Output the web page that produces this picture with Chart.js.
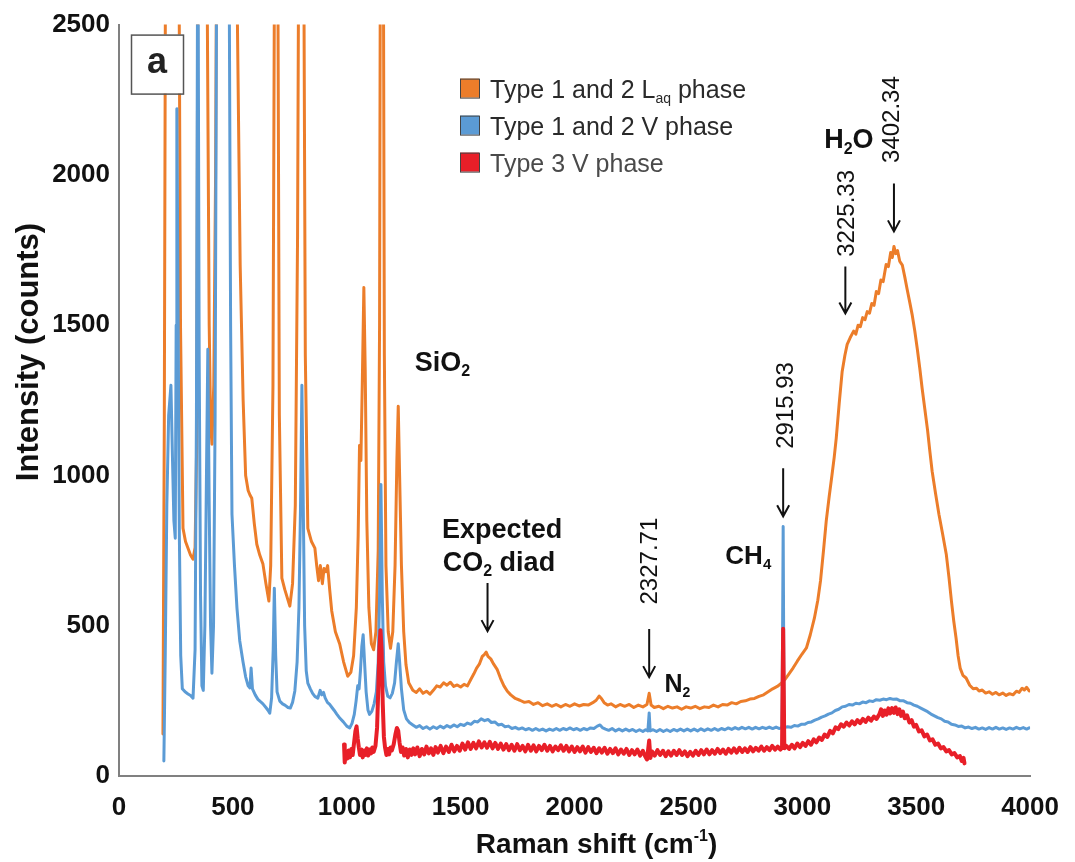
<!DOCTYPE html>
<html lang="en">
<head>
  <meta charset="UTF-8" />
  <title>Raman spectra of fluid inclusions</title>
  <script src="https://cdn.jsdelivr.net/npm/chart.js"></script>
  <style>
    html, body { margin: 0; padding: 0; background: #fff; }
    #wrap { position: relative; width: 1075px; height: 862px; }
  </style>
</head>
<body>
  <div id="wrap"><canvas id="spectra" width="1075" height="862"></canvas></div>

  <script>
    const FONT = '"Liberation Sans", Arial, Helvetica, sans-serif';

    // Axis ticks
    const xTicks = [0, 500, 1000, 1500, 2000, 2500, 3000, 3500, 4000];
    const yTicks = [0, 500, 1000, 1500, 2000, 2500];

    const seriesNames = ['Type 1 and 2 Laq phase', 'Type 1 and 2 V phase', 'Type 3 V phase'];
    const seriesColors = ['#ec7d2a', '#5b9bd5', '#e81f28'];

    // Raman shift (cm-1), intensity (counts)
    const laqSpectrum = [
      [193,140],[199,1200],[205,3000],[262,3000],[270,1500],[281,824],[292,780],[303,758],[314,735],[325,721],
      [334,760],[341,1100],[347,3000],[384,3000],[396,1500],[402,1180],[408,1104],[416,1300],[424,2000],[430,3000],
      [505,3000],[520,2500],[532,1700],[545,1250],[556,1000],[567,950],[575,935],[583,924],[594,840],[605,771],
      [618,735],[632,705],[645,640],[658,582],[666,700],[676,1300],[684,3000],[696,3000],[704,1200],[715,658],
      [728,620],[740,590],[750,565],[762,640],[774,900],[784,1800],[790,3000],[810,3000],[818,1400],[829,824],
      [845,780],[860,758],[868,700],[876,650],[884,700],[893,640],[900,690],[908,680],[916,700],[925,620],
      [934,549],[950,480],[969,439],[986,380],[1004,332],[1018,345],[1030,400],[1042,560],[1050,800],[1056,1100],
      [1062,1050],[1068,1300],[1075,1625],[1081,1350],[1088,850],[1097,560],[1108,440],[1118,420],[1128,480],[1138,750],
      [1144,1500],[1148,3000],[1160,3000],[1165,1400],[1172,700],[1182,480],[1192,425],[1202,480],[1212,700],[1220,1050],
      [1226,1230],[1232,1000],[1240,700],[1250,480],[1260,370],[1272,310],[1290,285],[1305,278],[1320,290],[1335,275],
      [1350,282],[1365,272],[1380,285],[1395,300],[1410,296],[1425,310],[1440,302],[1455,312],[1470,298],[1485,303],
      [1500,296],[1515,305],[1530,300],[1545,322],[1558,340],[1570,359],[1582,372],[1595,398],[1605,405],[1612,412],
      [1620,398],[1632,390],[1645,372],[1660,355],[1675,325],[1690,300],[1705,282],[1720,270],[1740,258],[1760,252],
      [1780,245],[1800,248],[1820,238],[1840,244],[1860,234],[1880,240],[1900,232],[1920,238],[1940,230],[1960,238],
      [1980,232],[2000,240],[2020,233],[2040,238],[2060,236],[2080,244],[2095,252],[2108,266],[2118,258],[2130,244],
      [2145,236],[2160,240],[2180,230],[2200,238],[2220,232],[2240,238],[2260,228],[2280,236],[2300,230],[2318,238],
      [2327.71,275],[2336,236],[2350,228],[2370,232],[2390,224],[2410,232],[2430,226],[2450,230],[2470,222],[2490,230],
      [2510,226],[2530,232],[2550,224],[2570,230],[2590,228],[2610,236],[2630,230],[2650,238],[2670,236],[2690,244],
      [2710,240],[2730,248],[2750,250],[2770,256],[2790,258],[2810,265],[2830,270],[2850,280],[2870,290],[2890,298],
      [2904,306],[2925,322],[2940,338],[2960,360],[2978,382],[2998,405],[3018,426],[3035,470],[3053,525],[3068,585],
      [3080,650],[3093,750],[3105,848],[3118,930],[3130,1000],[3140,1060],[3149,1124],[3162,1240],[3175,1346],[3187,1400],
      [3197,1436],[3210,1458],[3225.33,1480],[3235,1470],[3245,1500],[3255,1495],[3265,1525],[3275,1518],[3285,1545],[3295,1540],
      [3305,1572],[3315,1566],[3325,1612],[3335,1605],[3345,1650],[3355,1645],[3368,1702],[3378,1695],[3388,1742],[3395,1725],
      [3402.34,1762],[3410,1738],[3418,1748],[3428,1712],[3439,1700],[3450,1660],[3460,1620],[3472,1575],[3482,1536],[3494,1480],
      [3505,1420],[3516,1355],[3526,1290],[3538,1220],[3550,1150],[3560,1080],[3570,1014],[3585,940],[3600,870],[3616,805],
      [3632,738],[3644,660],[3655,580],[3665,515],[3675,459],[3684,400],[3693,359],[3705,335],[3719,326],[3735,302],
      [3750,290],[3765,292],[3776,283],[3790,286],[3805,276],[3820,280],[3835,272],[3850,278],[3864,270],[3880,276],
      [3895,268],[3910,274],[3925,270],[3940,282],[3952,278],[3965,292],[3975,286],[3985,295],[3996,283]
    ];

    const vapSpectrum = [
      [197,50],[203,400],[210,900],[218,1200],[228,1300],[235,1050],[241,850],[247,791],[251,1500],[254,2220],
      [259,1600],[265,800],[271,400],[278,290],[290,280],[303,273],[314,268],[325,259],[334,420],[340,1200],
      [346,3000],[352,1400],[358,600],[364,300],[370,285],[377,500],[384,1000],[390,1420],[396,900],[402,500],
      [408,342],[415,500],[422,1200],[430,3000],[482,3000],[490,1500],[496,871],[507,700],[518,558],[530,450],
      [544,382],[556,330],[567,300],[575,293],[580,359],[586,290],[598,270],[610,255],[620,248],[632,240],
      [645,228],[655,218],[662,209],[670,260],[677,420],[682,625],[688,400],[694,280],[706,249],[718,240],
      [730,235],[742,228],[752,226],[762,245],[772,283],[782,380],[790,560],[797,900],[803,1300],[809,900],
      [815,500],[822,350],[829,309],[840,290],[850,275],[860,265],[873,259],[883,285],[890,270],[898,278],
      [905,260],[915,245],[925,238],[935,228],[945,218],[956,206],[970,192],[985,180],[1000,166],[1013,160],
      [1023,175],[1033,205],[1041,250],[1048,300],[1054,290],[1060,350],[1066,430],[1072,470],[1078,380],[1085,280],
      [1093,220],[1100,205],[1110,215],[1120,240],[1130,280],[1138,380],[1144,600],[1150,970],[1156,600],[1162,380],
      [1170,300],[1180,265],[1190,260],[1200,275],[1210,310],[1218,380],[1226,440],[1232,380],[1240,290],[1250,220],
      [1262,190],[1275,178],[1290,170],[1305,162],[1320,168],[1335,158],[1350,164],[1365,156],[1380,164],[1395,158],
      [1410,166],[1425,160],[1440,168],[1455,162],[1470,170],[1485,164],[1500,172],[1515,168],[1530,176],[1545,172],
      [1560,182],[1575,180],[1590,190],[1605,184],[1620,188],[1635,178],[1650,180],[1665,170],[1680,172],[1695,164],
      [1710,166],[1725,158],[1740,162],[1755,156],[1770,160],[1785,154],[1800,158],[1815,152],[1830,158],[1845,152],
      [1860,156],[1875,150],[1890,156],[1905,152],[1920,158],[1935,152],[1950,158],[1965,154],[1980,160],[1995,154],
      [2010,158],[2025,152],[2040,158],[2055,154],[2070,160],[2085,158],[2100,166],[2112,170],[2124,160],[2136,156],
      [2150,152],[2165,158],[2180,150],[2195,156],[2210,150],[2225,156],[2240,150],[2255,155],[2270,148],[2285,154],
      [2300,148],[2312,154],[2322,150],[2327.71,210],[2332,150],[2345,154],[2360,148],[2375,155],[2390,148],[2405,154],
      [2420,148],[2435,155],[2450,150],[2465,156],[2480,150],[2495,156],[2510,150],[2525,156],[2540,150],[2555,157],
      [2570,151],[2585,157],[2600,152],[2615,158],[2630,152],[2645,158],[2660,154],[2675,160],[2690,155],[2705,161],
      [2720,156],[2735,162],[2750,157],[2765,162],[2780,156],[2795,162],[2810,157],[2825,162],[2840,158],[2855,163],
      [2870,158],[2885,163],[2900,158],[2911,162],[2915.93,830],[2920,160],[2935,164],[2950,162],[2965,168],[2980,166],
      [2995,172],[3010,172],[3025,178],[3040,180],[3055,186],[3070,190],[3085,196],[3100,200],[3115,206],[3130,210],
      [3145,218],[3160,222],[3175,230],[3190,232],[3205,238],[3220,236],[3235,242],[3250,240],[3265,246],[3280,244],
      [3295,250],[3310,248],[3325,254],[3340,252],[3355,256],[3370,254],[3385,258],[3400,255],[3415,256],[3430,250],
      [3445,250],[3460,244],[3475,242],[3490,236],[3505,232],[3520,226],[3535,220],[3550,214],[3565,206],[3580,200],
      [3595,194],[3610,190],[3625,182],[3640,180],[3655,172],[3670,170],[3685,165],[3700,166],[3715,160],[3730,163],
      [3745,158],[3760,162],[3775,156],[3790,160],[3805,155],[3820,161],[3835,156],[3850,162],[3865,156],[3880,160],
      [3895,155],[3910,160],[3925,156],[3940,162],[3955,157],[3970,161],[3985,156],[3996,160]
    ];

    const type3Spectrum = [
      [988,105],[991,45],[996,80],[1002,58],[1008,85],[1014,62],[1020,90],[1026,70],[1032,110],[1038,150],
      [1043,165],[1048,125],[1053,95],[1058,70],[1064,88],[1070,62],[1076,85],[1082,70],[1088,92],[1094,68],
      [1100,88],[1106,75],[1112,95],[1118,80],[1126,100],[1133,160],[1138,280],[1143,420],[1148,485],[1153,420],
      [1158,240],[1163,130],[1168,95],[1174,70],[1180,90],[1186,72],[1192,95],[1198,85],[1206,105],[1214,140],
      [1220,160],[1226,150],[1232,110],[1238,80],[1245,95],[1252,68],[1260,90],[1268,62],[1276,88],[1284,70],
      [1292,92],[1300,72],[1310,95],[1320,66],[1330,90],[1340,72],[1350,98],[1360,75],[1370,92],[1380,70],
      [1390,96],[1400,78],[1412,100],[1424,76],[1436,98],[1448,80],[1460,104],[1472,82],[1484,100],[1496,84],
      [1508,108],[1520,88],[1532,112],[1544,90],[1556,110],[1568,92],[1580,115],[1592,95],[1604,112],[1616,94],
      [1628,114],[1640,92],[1652,110],[1664,90],[1676,108],[1688,88],[1700,106],[1712,86],[1724,104],[1736,84],
      [1748,106],[1760,86],[1772,100],[1784,82],[1796,104],[1808,84],[1820,102],[1832,82],[1844,100],[1856,86],
      [1868,104],[1880,84],[1892,100],[1904,82],[1916,98],[1928,86],[1940,102],[1952,84],[1964,100],[1976,82],
      [1988,98],[2000,80],[2012,96],[2024,82],[2036,98],[2048,78],[2060,96],[2072,80],[2084,94],[2096,76],
      [2108,92],[2120,78],[2132,94],[2144,74],[2156,90],[2168,76],[2180,92],[2192,72],[2204,88],[2216,74],
      [2228,90],[2240,70],[2252,86],[2264,72],[2276,88],[2288,68],[2300,84],[2310,66],[2318,55],[2322,80],
      [2327.71,118],[2333,60],[2340,82],[2352,68],[2364,86],[2376,70],[2388,84],[2400,66],[2412,82],[2424,68],
      [2436,84],[2448,70],[2460,86],[2472,70],[2484,82],[2496,66],[2508,80],[2520,68],[2532,84],[2544,70],
      [2556,86],[2568,72],[2580,88],[2592,72],[2604,86],[2616,74],[2628,90],[2640,76],[2652,88],[2664,74],
      [2676,90],[2688,78],[2700,92],[2712,78],[2724,94],[2736,80],[2748,92],[2760,80],[2772,96],[2784,82],
      [2796,94],[2808,84],[2820,98],[2832,84],[2844,96],[2856,86],[2868,100],[2880,88],[2892,98],[2904,88],
      [2911,95],[2915.93,490],[2921,92],[2930,100],[2942,90],[2954,104],[2966,92],[2978,108],[2990,96],[3002,110],
      [3014,100],[3026,116],[3038,104],[3050,122],[3062,112],[3074,128],[3086,120],[3098,138],[3110,130],[3122,150],
      [3134,142],[3146,162],[3158,156],[3170,172],[3182,164],[3194,178],[3206,168],[3218,182],[3230,172],[3242,186],
      [3254,176],[3266,190],[3278,180],[3290,194],[3302,184],[3314,198],[3326,190],[3338,205],[3346,222],[3354,200],
      [3362,218],[3370,204],[3378,225],[3386,208],[3394,226],[3402,210],[3410,228],[3418,206],[3426,222],[3434,200],
      [3442,214],[3450,192],[3460,202],[3470,178],[3480,186],[3490,164],[3500,170],[3512,148],[3524,152],[3536,132],
      [3548,138],[3560,118],[3572,122],[3584,104],[3596,108],[3608,92],[3620,96],[3632,82],[3644,86],[3656,72],
      [3668,76],[3680,62],[3692,66],[3700,50],[3708,60],[3712,42]
    ];

    // Assigned band positions (cm-1)
    const peakLabels = [2327.71, 2915.93, 3225.33, 3402.34];

    // Text notes placed in data units: [parts, x, centre y, align, size]
    // part flag: 0 normal, 1 subscript, 2 superscript
    const notes = [
      [[['SiO', 0], ['2', 1]], 1298, 1380, 'left', 27],
      [[['Expected', 0]], 1682, 824, 'center', 27],
      [[['CO', 0], ['2', 1], [' diad', 0]], 1668, 715, 'center', 27],
      [[['N', 0], ['2', 1]], 2395, 309, 'left', 25],
      [[['CH', 0], ['4', 1]], 2662, 738, 'left', 26],
      [[['H', 0], ['2', 1], ['O', 0]], 3096, 2121, 'left', 27]
    ];
    // Rotated band labels: text centre (x, y), arrow x, arrow top, arrow tip
    const bandMarks = [
      [peakLabels[0], 2334, 715, 2327.71, 489, 329],
      [peakLabels[1], 2930, 1233, 2915.93, 1024, 864],
      [peakLabels[2], 3197, 1872, 3189, 1695, 1539],
      [peakLabels[3], 3395, 2184, 3402.34, 1971, 1812]
    ];
    const coArrow = [1618, 642, 482];

    const legendParts = [
      [['Type 1 and 2 L', 0], ['aq', 1], [' phase', 0]],
      [['Type 1 and 2 V phase', 0]],
      [['Type 3 V phase', 0]]
    ];

    function drawRich(ctx, parts, x, y, size, weight, align) {
      const fontFor = f => `${weight} ${f ? Math.round(size * 0.58) : size}px ${FONT}`;
      let w = 0;
      parts.forEach(([t, f]) => { ctx.font = fontFor(f); w += ctx.measureText(t).width; });
      let cx = align === 'center' ? x - w / 2 : x;
      ctx.textAlign = 'left';
      ctx.textBaseline = 'alphabetic';
      parts.forEach(([t, f]) => {
        ctx.font = fontFor(f);
        const dy = f === 1 ? size * 0.2 : f === 2 ? -size * 0.42 : 0;
        ctx.fillText(t, cx, y + dy);
        cx += ctx.measureText(t).width;
      });
    }

    function drawArrow(ctx, x, y1, y2) {
      ctx.beginPath();
      ctx.moveTo(x, y1);
      ctx.lineTo(x, y2);
      ctx.moveTo(x - 6, y2 - 11);
      ctx.lineTo(x, y2);
      ctx.lineTo(x + 6, y2 - 11);
      ctx.stroke();
    }

    const notesPlugin = {
      id: 'notes',
      afterDraw(chart) {
        const { ctx, chartArea: ca } = chart;
        const xs = chart.scales.x, ys = chart.scales.y;
        const px = v => xs.getPixelForValue(v), py = v => ys.getPixelForValue(v);
        ctx.save();

        // panel letter
        ctx.fillStyle = '#fff';
        ctx.strokeStyle = '#555';
        ctx.lineWidth = 1.5;
        ctx.fillRect(ca.left + 12, ca.top + 10, 52, 59);
        ctx.strokeRect(ca.left + 12.5, ca.top + 10.5, 52, 59);
        ctx.fillStyle = '#222';
        ctx.font = `bold 36px ${FONT}`;
        ctx.textAlign = 'center';
        ctx.textBaseline = 'middle';
        ctx.fillText('a', ca.left + 38, ca.top + 38);

        // legend
        legendParts.forEach((parts, i) => {
          const top = ca.top + 54 + i * 37;
          ctx.fillStyle = seriesColors[i];
          ctx.fillRect(ca.left + 341, top, 19, 19);
          ctx.strokeStyle = '#444';
          ctx.lineWidth = 1;
          ctx.strokeRect(ca.left + 341.5, top + 0.5, 19, 19);
          ctx.fillStyle = i === 2 ? '#4a4a4a' : '#2a2a2a';
          drawRich(ctx, parts, ca.left + 371, top + 10 + 25 * 0.36, 25, 'normal', 'left');
        });

        // species labels
        ctx.fillStyle = '#111';
        notes.forEach(([parts, x, y, align, size]) => {
          drawRich(ctx, parts, px(x), py(y) + size * 0.36, size, 'bold', align);
        });

        // arrows and band positions
        ctx.strokeStyle = '#111';
        ctx.lineWidth = 2;
        drawArrow(ctx, px(coArrow[0]), py(coArrow[1]), py(coArrow[2]));
        bandMarks.forEach(([val, tx, ty, ax, a1, a2]) => {
          drawArrow(ctx, px(ax), py(a1), py(a2));
          ctx.save();
          ctx.translate(px(tx), py(ty));
          ctx.rotate(-Math.PI / 2);
          ctx.font = `normal 24px ${FONT}`;
          ctx.textAlign = 'center';
          ctx.textBaseline = 'middle';
          ctx.fillStyle = '#111';
          ctx.fillText(val.toFixed(2), 0, 0);
          ctx.restore();
        });

        // axis titles
        ctx.fillStyle = '#111';
        ctx.save();
        ctx.translate(29, 352);
        ctx.rotate(-Math.PI / 2);
        ctx.font = `bold 31px ${FONT}`;
        ctx.textAlign = 'center';
        ctx.textBaseline = 'middle';
        ctx.fillText('Intensity (counts)', 0, 0);
        ctx.restore();
        drawRich(ctx, [['Raman shift (cm', 0], ['-1', 2], [')', 0]], (ca.left + ca.right) / 2 + 22, 853, 28, 'bold', 'center');

        ctx.restore();
      }
    };

    const toPoints = arr => arr.map(([x, y]) => ({ x, y }));
    const tickFont = { family: FONT, size: 26, weight: 'bold' };

    new Chart(document.getElementById('spectra'), {
      type: 'line',
      data: {
        datasets: [
          { label: seriesNames[0], data: toPoints(laqSpectrum), borderColor: seriesColors[0], borderWidth: 3, order: 3 },
          { label: seriesNames[1], data: toPoints(vapSpectrum), borderColor: seriesColors[1], borderWidth: 3, order: 2 },
          { label: seriesNames[2], data: toPoints(type3Spectrum), borderColor: seriesColors[2], borderWidth: 4, order: 1 }
        ]
      },
      options: {
        responsive: false,
        animation: false,
        devicePixelRatio: 1,
        elements: {
          point: { radius: 0 },
          line: { tension: 0, borderJoinStyle: 'round', borderCapStyle: 'round' }
        },
        layout: { padding: { top: 23, right: 44, left: 0, bottom: 0 } },
        plugins: { legend: { display: false }, tooltip: { enabled: false } },
        scales: {
          x: {
            type: 'linear', min: 0, max: 4000,
            afterBuildTicks: s => { s.ticks = xTicks.map(v => ({ value: v })); },
            afterFit: s => { s.height = 86; },
            grid: { display: false, drawTicks: false },
            border: { display: true, color: '#808080', width: 2 },
            ticks: { font: tickFont, color: '#111', padding: 16, maxRotation: 0, callback: v => String(v) }
          },
          y: {
            type: 'linear', min: 0, max: 2500,
            afterBuildTicks: s => { s.ticks = yTicks.map(v => ({ value: v })); },
            afterFit: s => { s.width = 119; },
            grid: { display: false, drawTicks: false },
            border: { display: true, color: '#808080', width: 2 },
            ticks: { font: tickFont, color: '#111', padding: 9, callback: v => String(v) }
          }
        }
      },
      plugins: [notesPlugin]
    });
  </script>
</body>
</html>
